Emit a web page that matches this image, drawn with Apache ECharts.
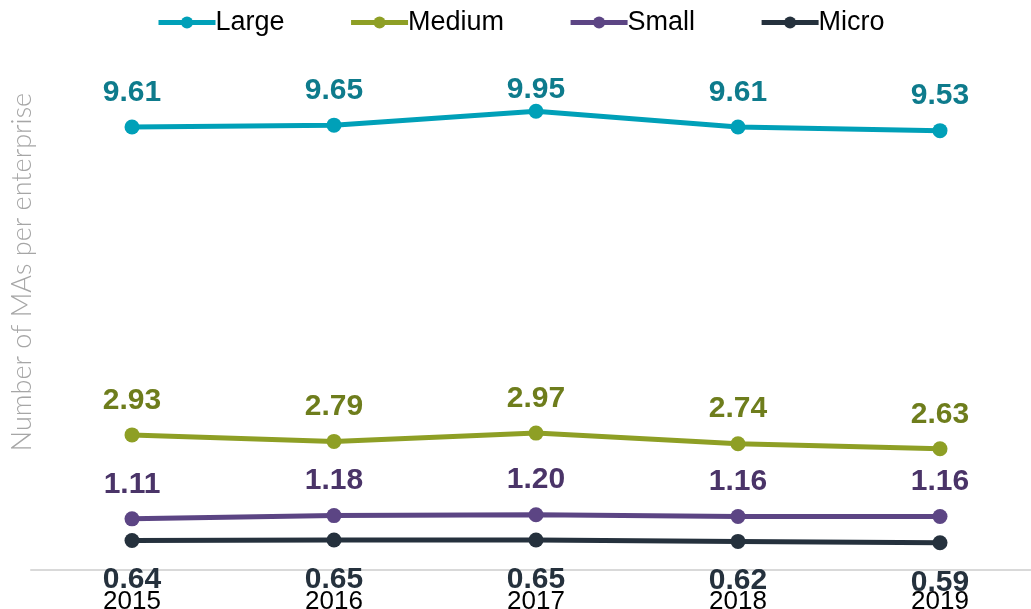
<!DOCTYPE html>
<html>
<head>
<meta charset="utf-8">
<script src="https://cdn.jsdelivr.net/npm/echarts@6/dist/echarts.min.js"></script>
<style>
  html, body { margin: 0; padding: 0; background: #ffffff; }
  #chart { width: 1031px; height: 609px; }
</style>
</head>
<body>
<div id="chart"></div>
<script>
// Years on the horizontal axis
var years = ['2015', '2016', '2017', '2018', '2019'];

// Number of MAs per enterprise, by enterprise size
var large  = [9.61, 9.65, 9.95, 9.61, 9.53];
var medium = [2.93, 2.79, 2.97, 2.74, 2.63];
var small  = [1.11, 1.18, 1.20, 1.16, 1.16];
var micro  = [0.64, 0.65, 0.65, 0.62, 0.59];

var seriesNames = ['Large', 'Medium', 'Small', 'Micro'];
var lineColors  = ['#00a0b8', '#8e9f25', '#5c4584', '#25313d'];
var labelColors = ['#0e7b8c', '#6e7d1c', '#4a3468', '#25313d'];
var labelPos    = ['top', 'top', 'top', 'bottom'];
var labelGap    = [12, 12, 12, 17];
var values      = [large, medium, small, micro];

// value labels never rise above this line
var LABEL_CEILING = 75;

var series = seriesNames.map(function (name, i) {
  return {
    name: name,
    type: 'line',
    data: values[i],
    symbol: 'circle',
    symbolSize: 15,
    lineStyle: { width: 5, color: lineColors[i] },
    itemStyle: { color: lineColors[i] },
    label: {
      show: true,
      position: labelPos[i],
      distance: labelGap[i],
      fontFamily: 'Liberation Sans, Arial, sans-serif',
      fontWeight: 'bold',
      fontSize: 30,
      color: labelColors[i],
      formatter: function (p) { return p.value.toFixed(2); }
    },
    labelLayout: function (p) {
      var r = p.labelRect;
      return r.y < LABEL_CEILING ? { dy: LABEL_CEILING - r.y } : {};
    },
    emphasis: { disabled: true },
    animation: false
  };
});

var chart = echarts.init(document.getElementById('chart'), null, { renderer: 'canvas' });
chart.setOption({
  backgroundColor: '#ffffff',
  animation: false,
  legend: {
    top: 4,
    left: 151,
    itemWidth: 57,
    itemHeight: 15,
    itemGap: 64,
    data: seriesNames,
    lineStyle: { width: 5 },
    textStyle: {
      fontFamily: 'Liberation Sans, Arial, sans-serif',
      fontSize: 27,
      color: '#000000',
      padding: [0, 0, 0, -5]
    }
  },
  grid: { left: 31, top: 109, bottom: 39, right: -10, outerBoundsMode: 'none' },
  xAxis: {
    type: 'category',
    data: years,
    boundaryGap: true,
    axisLine: { show: true, lineStyle: { color: '#d9d9d9', width: 2 } },
    axisTick: { show: false },
    axisLabel: {
      margin: 19,
      fontFamily: 'Liberation Sans, Arial, sans-serif',
      fontSize: 26,
      color: '#000000'
    }
  },
  yAxis: {
    type: 'value',
    min: 0,
    max: 10,
    axisLine: { show: false },
    axisTick: { show: false },
    axisLabel: { show: false },
    splitLine: { show: false }
  },
  graphic: [{
    type: 'text',
    x: 22,
    y: 272,
    rotation: Math.PI / 2,
    style: {
      text: 'Number of MAs per enterprise',
      fontFamily: 'Lato, Liberation Sans, sans-serif',
      fontWeight: 300,
      fontSize: 27,
      fill: '#a6a6a6',
      textAlign: 'center',
      textVerticalAlign: 'middle'
    }
  }],
  series: series
});
</script>
</body>
</html>
